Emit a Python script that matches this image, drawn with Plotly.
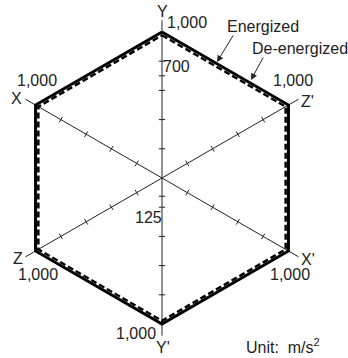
import numpy as np
import plotly.graph_objects as go

# axis directions of the hexagon (degrees, counter-clockwise from +x)
axis_names = ["Y", "Z'", "X'", "Y'", "Z", "X"]
axis_angles = [90, 30, -30, -90, -150, 150]
energized = [1000, 1000, 1000, 1000, 1000, 1000]
de_energized = [978, 978, 978, 978, 978, 978]
vertex_labels = ["1,000", "1,000", "1,000", "1,000", "1,000", "1,000"]
tick_values = [200, 400, 600, 800]
extra_ticks = {"Y": [700], "Y'": [125]}
axis_end = 1080

# page geometry
W, H = 348, 358
cx, cy = 162, 178
scale = 0.146  # px per unit
tick_half = 22

FONT = "Liberation Sans, Arial, sans-serif"


def to_xy(r, deg):
    a = np.radians(deg)
    return r * np.cos(a), r * np.sin(a)


def px(xp, yp):
    return (xp - cx) / scale, (cy - yp) / scale


fig = go.Figure()

# axis lines
ax_x, ax_y = [], []
for ang in axis_angles:
    x1, y1 = to_xy(axis_end, ang)
    ax_x += [0, x1, None]
    ax_y += [0, y1, None]
fig.add_trace(go.Scatter(x=ax_x, y=ax_y, mode="lines",
                         line=dict(color="#222", width=1), hoverinfo="skip"))

# tick marks
tx, ty = [], []
for name, ang in zip(axis_names, axis_angles):
    a = np.radians(ang)
    nx, ny = -np.sin(a), np.cos(a)
    for v in tick_values + extra_ticks.get(name, []):
        px0, py0 = to_xy(v, ang)
        tx += [px0 - nx * tick_half, px0 + nx * tick_half, None]
        ty += [py0 - ny * tick_half, py0 + ny * tick_half, None]
fig.add_trace(go.Scatter(x=tx, y=ty, mode="lines",
                         line=dict(color="#222", width=1), hoverinfo="skip"))

# energized / de-energized hexagons
ex, ey = to_xy(np.array(energized + energized[:1]), np.array(axis_angles + axis_angles[:1]))
fig.add_trace(go.Scatter(x=ex, y=ey, mode="lines", name="Energized",
                         line=dict(color="black", width=3)))
dx, dy = to_xy(np.array(de_energized + de_energized[:1]), np.array(axis_angles + axis_angles[:1]))
fig.add_trace(go.Scatter(x=dx, y=dy, mode="lines", name="De-energized",
                         line=dict(color="black", width=2.5, dash="6px,3px")))

# text labels (pixel positions)
labels = [
    ("Y", 162, 11), ("Y'", 163, 347), ("X", 16, 98), ("X'", 308, 259),
    ("Z", 18, 258), ("Z'", 307, 101),
    (vertex_labels[0], 187, 22), (vertex_labels[1], 293, 80), (vertex_labels[2], 290, 274),
    (vertex_labels[3], 136, 333), (vertex_labels[4], 38, 274), (vertex_labels[5], 37, 80),
    ("700", 176, 66), ("125", 148, 217),
    ("Energized", 263, 26), ("De-energized", 300, 48),
    ("Unit:  m/s<sup>2</sup>", 283, 346),
]
for text, xp, yp in labels:
    x, y = px(xp, yp)
    fig.add_annotation(x=x, y=y, text=text, showarrow=False, xanchor="center",
                       yanchor="middle", font=dict(family=FONT, size=16, color="#222"))

# pointer arrows
for (tip_x, tip_y), (sx, sy) in [((217, 62), (234, 34)), ((251, 80), (264, 56))]:
    x, y = px(tip_x, tip_y)
    fig.add_annotation(x=x, y=y, text="", showarrow=True, ax=sx - tip_x, ay=sy - tip_y,
                       arrowhead=2, arrowsize=1.3, arrowwidth=1, arrowcolor="#222", standoff=0)

fig.update_layout(
    width=W, height=H, autosize=False,
    margin=dict(l=0, r=0, t=0, b=0),
    paper_bgcolor="white", plot_bgcolor="white",
    showlegend=False,
    xaxis=dict(range=[(0 - cx) / scale, (W - cx) / scale], visible=False, fixedrange=True),
    yaxis=dict(range=[(cy - H) / scale, cy / scale], visible=False, fixedrange=True),
)

fig.write_html("out.html", config={"displayModeBar": False},
               post_script="document.body.style.margin='0px';")
